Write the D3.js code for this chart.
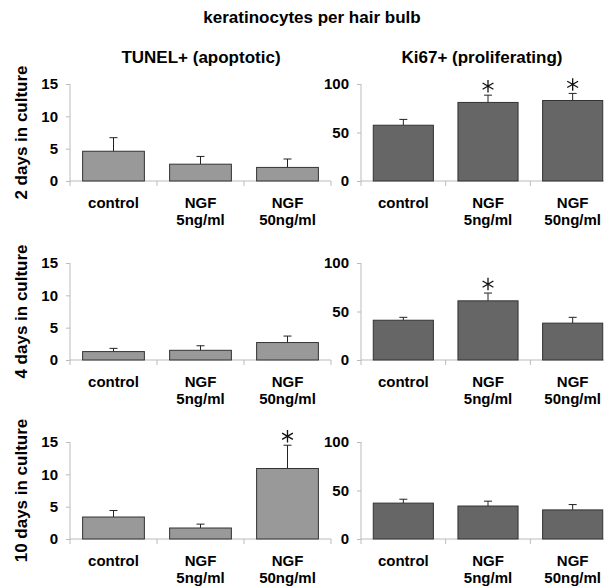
<!DOCTYPE html>
<html>
<head>
<meta charset="utf-8">
<script src="https://cdn.jsdelivr.net/npm/d3@7"></script>
<style>
  body { margin: 0; background: #fff; }
  svg text { font-family: "Liberation Sans", Arial, sans-serif; font-weight: bold; fill: #000; }
</style>
</head>
<body>
<script>
// data
var groups = ["control", "NGF|5ng/ml", "NGF|50ng/ml"];
var rows = ["2 days in culture", "4 days in culture", "10 days in culture"];
var columns = ["TUNEL+ (apoptotic)", "Ki67+ (proliferating)"];

var tunelMean = [[4.6, 2.6, 2.1], [1.3, 1.5, 2.7], [3.4, 1.7, 10.9]];
var tunelErr  = [[2.1, 1.2, 1.3], [0.5, 0.7, 1.0], [1.0, 0.6, 3.6]];
var tunelSig  = [[false, false, false], [false, false, false], [false, false, true]];
var tunelTicks = [0, 5, 10, 15];

var kiMean = [[57.5, 81, 83], [41, 61, 38], [37, 34, 30]];
var kiErr  = [[6, 7.5, 7.3], [3, 8, 6], [4, 5, 5.5]];
var kiSig  = [[false, true, true], [false, true, false], [false, false, false]];
var kiTicks = [0, 50, 100];

var svg = d3.select("body").append("svg").attr("width", 604).attr("height", 588);

svg.append("text")
    .attr("x", 312).attr("y", 23)
    .attr("text-anchor", "middle")
    .attr("font-size", 17)
    .text("keratinocytes per hair bulb");

var colX = [[70, 331], [361, 615]];   // x range of each column of panels
var rowTop = [84, 263, 442];
var panelH = 97;

columns.forEach(function(c, ci) {
  svg.append("text")
      .attr("x", ci == 0 ? 201 : 482).attr("y", 63)
      .attr("text-anchor", "middle")
      .attr("font-size", 17)
      .text(c);
});

rows.forEach(function(r, ri) {
  svg.append("text")
      .attr("transform", "translate(27," + (rowTop[ri] + panelH / 2) + ") rotate(-90)")
      .attr("text-anchor", "middle")
      .attr("font-size", 17)
      .text(r);
});

function panel(ri, ci, means, errs, sig, ticks, fill) {
  var x = d3.scaleBand().domain(groups).range(colX[ci]).paddingInner(0.29).paddingOuter(0.145);
  var y = d3.scaleLinear().domain([0, ticks[ticks.length - 1]]).range([rowTop[ri] + panelH, rowTop[ri]]);
  var g = svg.append("g");

  // y axis
  var ya = g.append("g")
      .attr("transform", "translate(" + colX[ci][0] + ",0)")
      .call(d3.axisLeft(y).tickValues(ticks).tickSize(4).tickPadding(8));
  ya.select(".domain").attr("stroke", "#bbb").attr("d", "M0," + y.range()[1] + "V" + y.range()[0]);
  ya.selectAll(".tick line").attr("stroke", "#bbb");
  ya.selectAll(".tick text").attr("font-size", 15).attr("font-family", null);

  // x axis
  var base = y(0);
  var xa = g.append("g").attr("transform", "translate(0," + base + ")");
  xa.append("line").attr("x1", colX[ci][0]).attr("x2", colX[ci][1]).attr("stroke", "#bbb");
  var bounds = groups.map(function(d) { return x(d) - x.step() * x.paddingOuter(); });
  bounds.push(colX[ci][1]);
  xa.selectAll(".xt").data(bounds).enter().append("line")
      .attr("x1", function(d) { return d; }).attr("x2", function(d) { return d; })
      .attr("y1", 0).attr("y2", 5).attr("stroke", "#bbb");
  groups.forEach(function(gname, i) {
    var parts = gname.split("|");
    var t = xa.append("text")
        .attr("x", x(gname) + x.bandwidth() / 2)
        .attr("y", 27)
        .attr("text-anchor", "middle")
        .attr("font-size", 15);
    parts.forEach(function(p, k) {
      t.append("tspan").attr("x", x(gname) + x.bandwidth() / 2).attr("dy", k == 0 ? 0 : 17).text(p);
    });
  });

  var data = groups.map(function(gname, i) { return {g: gname, v: means[i], e: errs[i], s: sig[i]}; });

  // error bars (upper half only)
  g.selectAll(".err").data(data).enter().append("path")
      .attr("fill", "none").attr("stroke", "#222").attr("stroke-width", 1)
      .attr("d", function(d) {
        var cx = x(d.g) + x.bandwidth() / 2;
        return "M" + cx + "," + y(d.v) + "V" + y(d.v + d.e) + "M" + (cx - 4) + "," + y(d.v + d.e) + "H" + (cx + 4);
      });

  g.selectAll(".bar").data(data).enter().append("rect")
      .attr("x", function(d) { return x(d.g); })
      .attr("y", function(d) { return y(d.v); })
      .attr("width", x.bandwidth())
      .attr("height", function(d) { return base - y(d.v); })
      .attr("fill", fill)
      .attr("stroke", "#333").attr("stroke-width", 1);

  // significance stars
  g.selectAll(".star").data(data.filter(function(d) { return d.s; })).enter().append("path")
      .attr("transform", function(d) { return "translate(" + (x(d.g) + x.bandwidth() / 2) + "," + (y(d.v + d.e) - 9) + ")"; })
      .attr("d", d3.symbol().type(d3.symbolAsterisk).size(110))
      .attr("fill", "none").attr("stroke", "#111").attr("stroke-width", 1.3);
}

rows.forEach(function(r, ri) {
  panel(ri, 0, tunelMean[ri], tunelErr[ri], tunelSig[ri], tunelTicks, "#999999");
  panel(ri, 1, kiMean[ri], kiErr[ri], kiSig[ri], kiTicks, "#666666");
});
</script>
</body>
</html>
